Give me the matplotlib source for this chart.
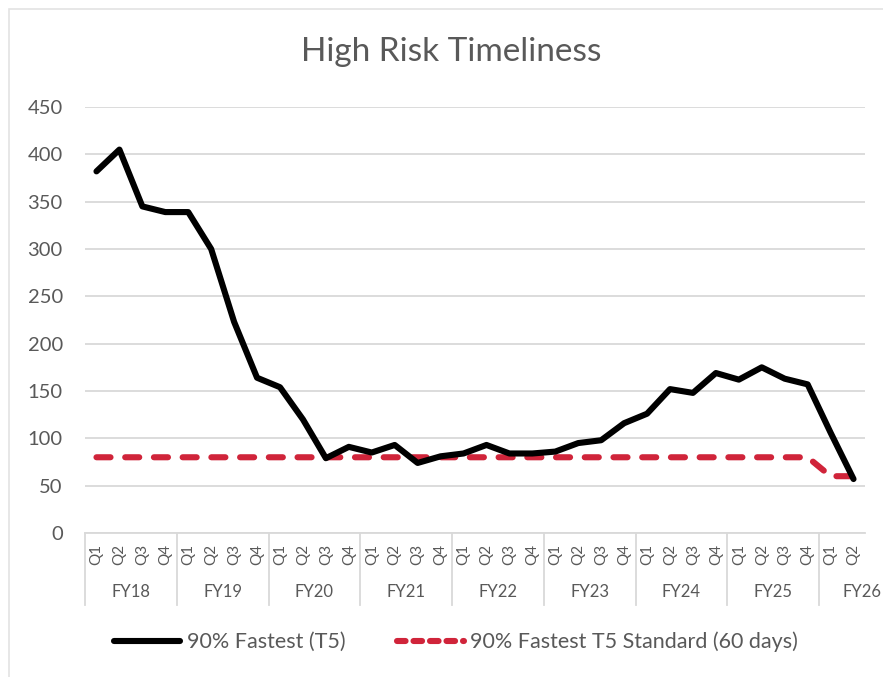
import matplotlib
matplotlib.use("Agg")
import matplotlib.pyplot as plt
from matplotlib.lines import Line2D
from matplotlib.patches import Rectangle
from matplotlib.transforms import blended_transform_factory

plt.rcParams['font.family'] = ['Lato', 'DejaVu Sans']

# Quarterly series, FY18 Q1 .. FY26 Q2
fiscal_years = ["FY18", "FY19", "FY20", "FY21", "FY22", "FY23", "FY24", "FY25", "FY26"]
quarters = ["Q1", "Q2", "Q3", "Q4"]
quarter_labels = [q for fy in fiscal_years[:-1] for q in quarters] + ["Q1", "Q2"]

fastest_90 = [382, 405, 345, 339, 339, 300, 223, 164, 154, 120,
              79, 91, 85, 93, 74, 81, 84, 93, 84, 84,
              86, 95, 98, 116, 126, 152, 148, 169, 162, 175,
              163, 157, 106, 57]
standard_days = [80] * 32 + [60, 60]

TEXT = "#595959"
GRID = "#D9D9D9"
RED = "#D0243A"

W, H = 883, 677
fig = plt.figure(figsize=(W / 100, H / 100), dpi=100)

# light chart-area border
fig.add_artist(Rectangle((9 / W, -0.1), 1.2, 1 - 9 / H + 0.1, transform=fig.transFigure,
                         fill=False, edgecolor="#E3E3E3", linewidth=1.2))

left, right, top, bottom = 85, 865, 107, 533
ax = fig.add_axes([left / W, 1 - bottom / H, (right - left) / W, (bottom - top) / H])

x = list(range(len(quarter_labels)))
ax.plot(x, fastest_90, color="black", linewidth=4.4, solid_joinstyle="round",
        solid_capstyle="round", zorder=3)
ax.plot(x, standard_days, color=RED, linewidth=4.4, linestyle=(0, (2.3, 2.4)),
        dash_capstyle="round", zorder=2)

ax.set_xlim(-0.5, len(x) - 0.5)
ax.set_ylim(0, 450)
ax.set_yticks(range(0, 451, 50))
ax.yaxis.grid(True, color=GRID, linewidth=1.3)
ax.set_axisbelow(True)
for s in ["top", "right", "left"]:
    ax.spines[s].set_visible(False)
ax.spines["bottom"].set_color(GRID)
ax.spines["bottom"].set_linewidth(1.3)
ax.tick_params(axis="y", length=0, pad=16, labelsize=14.5, labelcolor=TEXT)

ax.set_xticks(x)
ax.set_xticklabels(quarter_labels, rotation=90, fontsize=11, color=TEXT)
ax.tick_params(axis="x", length=0, pad=8)

# fiscal-year level of the category axis
trans = blended_transform_factory(ax.transData, ax.transAxes)
sep_bottom = -(605 - bottom) / (bottom - top)
group_starts = list(range(0, 33, 4))
for g in group_starts:
    ax.plot([g - 0.5, g - 0.5], [0, sep_bottom], transform=trans, color=GRID,
            linewidth=1.3, clip_on=False)
fy_y = -(592 - bottom) / (bottom - top)
for i, fy in enumerate(fiscal_years):
    cx = 4 * i + 1.5 if i < len(fiscal_years) - 1 else 33.35
    ax.text(cx, fy_y, fy, transform=trans, ha="center", va="center",
            fontsize=12, color=TEXT)

fig.text(451 / W, 1 - 52 / H, "High Risk Timeliness", ha="center", va="center",
         fontsize=24, color=TEXT)

handles = [Line2D([], [], color="black", linewidth=4.4, solid_capstyle="round"),
           Line2D([], [], color=RED, linewidth=4.4, linestyle=(0, (1.4, 1.3)),
                  dash_capstyle="round")]
fig.legend(handles, ["90% Fastest (T5)", "90% Fastest T5 Standard (60 days)"],
           loc="center", bbox_to_anchor=(456 / W, 1 - 642 / H), ncol=2, frameon=False,
           fontsize=15.5, labelcolor=TEXT, handlelength=3.1, handletextpad=0.3,
           columnspacing=2.4)

fig.savefig("out.png", dpi=100, facecolor="white")
